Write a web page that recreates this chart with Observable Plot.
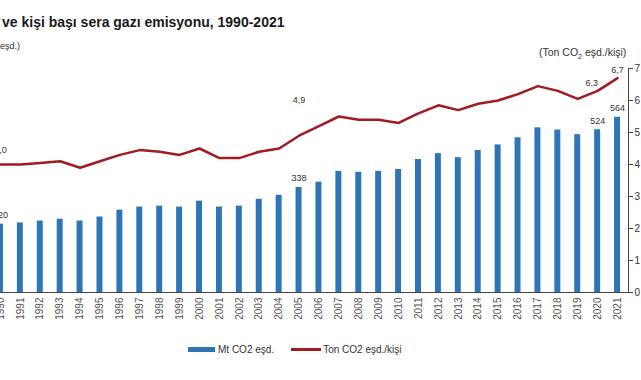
<!DOCTYPE html>
<html>
<head>
<meta charset="utf-8">
<script src="https://cdn.jsdelivr.net/npm/d3@7"></script>
<script src="https://cdn.jsdelivr.net/npm/@observablehq/plot@0.6"></script>
<style>
  html, body { margin: 0; padding: 0; background: #fff; }
  #wrap { position: relative; width: 641px; height: 380px; overflow: hidden; font-family: "Liberation Sans", Arial, sans-serif; background: #fff; }
  #title { position: absolute; left: 2px; top: 14px; font-size: 14px; font-weight: bold; color: #1a1a1a; white-space: nowrap; }
  #lunit { position: absolute; left: 0px; top: 41px; font-size: 9px; color: #333; white-space: nowrap; }
  #runit { position: absolute; left: 539px; top: 46px; font-size: 10.5px; color: #333; white-space: nowrap; }
  #chart { position: absolute; left: -40px; top: 0px; width: 700px; height: 330px; }
  #chart svg { max-width: none !important; }
  #legend { position: absolute; left: 188px; top: 344px; font-size: 10px; color: #333; display: flex; align-items: center; white-space: nowrap; }
  .sw { display: inline-block; }
</style>
</head>
<body>
<div id="wrap">
  <div id="title">ve kişi başı sera gazı emisyonu, 1990-2021</div>
  <div id="lunit">eşd.)</div>
  <div id="runit">(Ton CO<sub style="font-size:7px">2</sub> eşd./kişi)</div>
  <div id="chart"></div>
  <div id="legend">
    <span class="sw" style="width:27px;height:5px;background:#2e75b6;margin-right:3px"></span>
    <span>Mt CO2 eşd.</span>
    <span class="sw" style="width:30px;height:2.5px;background:#a01c22;margin-left:17px;margin-right:2px"></span>
    <span>Ton CO2 eşd./kişi</span>
  </div>
</div>
<script>
const years = ["1990","1991","1992","1993","1994","1995","1996","1997","1998","1999","2000","2001","2002","2003","2004","2005","2006","2007","2008","2009","2010","2011","2012","2013","2014","2015","2016","2017","2018","2019","2020","2021"];
const emissionsMt = [220, 224, 230, 236, 230, 243, 265, 275, 278, 275, 294, 275, 278, 300, 313, 338, 355, 390, 387, 390, 396, 428, 447, 434, 457, 475, 498, 530, 523, 508, 524, 564];
const perCapita = [4.0, 4.0, 4.05, 4.1, 3.9, 4.1, 4.3, 4.45, 4.4, 4.3, 4.5, 4.2, 4.2, 4.4, 4.5, 4.9, 5.2, 5.5, 5.4, 5.4, 5.3, 5.6, 5.85, 5.7, 5.9, 6.0, 6.2, 6.45, 6.3, 6.05, 6.3, 6.7];
const labelYears = ["1990", "2005", "2020", "2021"];
const barLabels = ["220", "338", "524", "564"];
const lineLabels = ["4,0", "4,9", "6,3", "6,7"];
const rightTicks = [0, 1, 2, 3, 4, 5, 6, 7];

const MT_PER_UNIT = 103; // Mt on the hidden left axis per unit of the right axis
const lineLabelDy = {"1990": -14, "2005": -36, "2020": -8, "2021": -8};
const lineLabelDx = {"1990": 0, "2005": 0, "2020": -6, "2021": 0};

const rows = years.map((y, i) => ({year: y, mt: emissionsMt[i], pc: perCapita[i]}));
const barLab = labelYears.map((y, i) => ({year: y, mt: emissionsMt[years.indexOf(y)], text: barLabels[i]}));
const lineLab = labelYears.map((y, i) => ({year: y, pc: perCapita[years.indexOf(y)], text: lineLabels[i]}));

const chart = Plot.plot({
  width: 700,
  height: 330,
  marginLeft: 29,
  marginRight: 32,
  marginTop: 68,
  marginBottom: 38,
  style: {fontFamily: "'Liberation Sans', Arial, sans-serif", background: "transparent", maxWidth: "none"},
  x: {type: "band", domain: years, paddingInner: 0.7, paddingOuter: 0.4, round: false, axis: null},
  y: {domain: [0, 7], axis: null},
  marks: [
    Plot.barY(rows, {x: "year", y: d => d.mt / MT_PER_UNIT, fill: "#2e75b6"}),
    Plot.ruleY([0], {stroke: "#444", strokeWidth: 1}),
    Plot.frame({anchor: "right", stroke: "#444"}),
    Plot.line(rows, {x: "year", y: "pc", stroke: "#a01c22", strokeWidth: 2.5, curve: "linear"}),
    Plot.text(barLab, {x: "year", y: d => d.mt / MT_PER_UNIT, text: "text", dy: -9, fontSize: 9, fill: "#333"}),
    ...lineLab.map(d => Plot.text([d], {x: "year", y: "pc", text: "text", dy: lineLabelDy[d.year], dx: lineLabelDx[d.year], fontSize: 9, fill: "#333"})),
    Plot.axisX({tickRotate: -90, tickSize: 0, tickPadding: 5, fontSize: 10, fill: "#555", label: null}),
    Plot.axisY(rightTicks, {anchor: "right", tickSize: 4, tickPadding: 2, fontSize: 10, fill: "#333", stroke: "#444", label: null})
  ]
});
document.getElementById("chart").appendChild(chart);
</script>
</body>
</html>
